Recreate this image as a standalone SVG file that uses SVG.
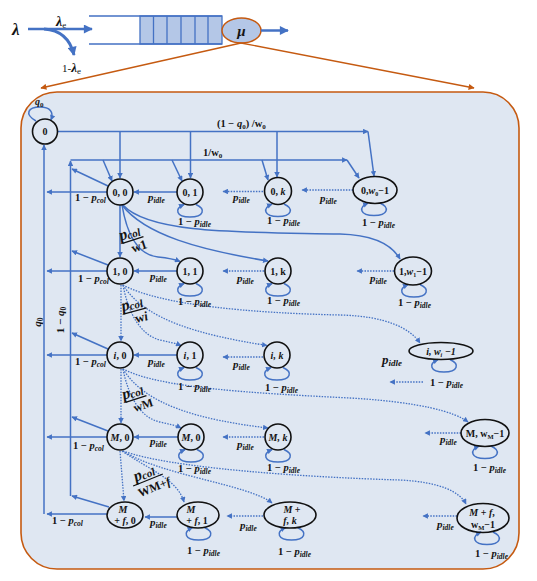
<svg xmlns="http://www.w3.org/2000/svg" width="537" height="581" viewBox="0 0 537 581">
<style>
.t{font-family:"Liberation Serif","DejaVu Serif",serif;font-weight:bold;fill:#141414}
.n{font-size:10px;text-anchor:middle}
.i{font-style:italic}
.sb{font-size:7.5px;font-style:italic}
.nd{fill:none;stroke:#111;stroke-width:1.6}
.e{fill:none;stroke:#4472c4;stroke-width:1.5;marker-end:url(#ab)}
.d{fill:none;stroke:#4472c4;stroke-width:1.3;stroke-dasharray:1.5 1.3;marker-end:url(#ab)}
.l{fill:none;stroke:#4472c4;stroke-width:1.5}
.fl{stroke:#111;stroke-width:1.3}
</style>
<defs>
<marker id="ab" viewBox="0 0 10 10" refX="9" refY="5" markerWidth="6" markerHeight="5.5" orient="auto" markerUnits="userSpaceOnUse"><path d="M0,0 L10,5 L0,10 z" fill="#4472c4"/></marker>
<marker id="abig" viewBox="0 0 10 10" refX="9" refY="5" markerWidth="10" markerHeight="9" orient="auto" markerUnits="userSpaceOnUse"><path d="M0,0 L10,5 L0,10 z" fill="#4472c4"/></marker>
<marker id="ao" viewBox="0 0 10 10" refX="9" refY="5" markerWidth="8" markerHeight="6" orient="auto" markerUnits="userSpaceOnUse"><path d="M0,0 L10,5 L0,10 z" fill="#c55a11"/></marker>
<path id="lp" d="M6,-0.5 C16,4 14,12 0,12 C-14,12 -16,4 -6,-0.5" fill="none" stroke="#4472c4" stroke-width="1.5" marker-end="url(#ab)"/>
</defs>

<!-- top queue -->
<g id="queue">
<text class="t i" x="12" y="35" font-size="17">λ</text>
<line x1="28" y1="29" x2="92" y2="29" stroke="#4472c4" stroke-width="2.5" marker-end="url(#abig)"/>
<path d="M44,29 C60,30 70,38 74,55" fill="none" stroke="#4472c4" stroke-width="3" marker-end="url(#abig)"/>
<text class="t" x="56" y="26" font-size="14"><tspan class="i">λ</tspan><tspan font-size="9" font-weight="normal" dy="2">e</tspan></text>
<text class="t" x="62" y="72" font-size="11"><tspan font-weight="normal">1-</tspan><tspan class="i" font-size="13">λ</tspan><tspan font-size="9" font-weight="normal" dy="2">e</tspan></text>
<rect x="140" y="16" width="82" height="28" fill="#b4c7e7" stroke="#4472c4" stroke-width="1.3"/>
<path d="M89,16 H222 M89,44 H222 M153.5,16 V44 M167,16 V44 M181,16 V44 M195,16 V44 M208,16 V44" stroke="#4472c4" stroke-width="1.3" fill="none"/>
<ellipse cx="241.5" cy="30.5" rx="19.5" ry="12.5" fill="#b4c7e7" stroke="#c55a11" stroke-width="1.5"/>
<text class="t i" x="241.5" y="36" font-size="15" text-anchor="middle">μ</text>
<line x1="261" y1="30.5" x2="288" y2="30.5" stroke="#4472c4" stroke-width="2.5" marker-end="url(#abig)"/>
<line x1="241" y1="43" x2="41" y2="88" stroke="#c55a11" stroke-width="1.3" marker-end="url(#ao)"/>
<line x1="241" y1="43" x2="474" y2="88" stroke="#c55a11" stroke-width="1.3" marker-end="url(#ao)"/>
</g>

<rect id="panel" x="21" y="92" width="498" height="477" rx="36" fill="#dfe7f2" stroke="#c55a11" stroke-width="1.6"/>

<g id="connectors">
<!-- node 0 self loop -->
<path d="M36,121 C24,114 28,107 40,107 C50,107 54,112 51,120" class="e"/>
<!-- (1-q0)/w0 bus -->
<path d="M57.5,131.5 H368" class="e"/>
<path d="M368,131.5 L374,176" class="e"/>
<path d="M120,131.5 V178" class="e"/>
<path d="M190.5,131.5 V178" class="e"/>
<path d="M277,131.5 V177" class="e"/>
<!-- 1/w0 bus -->
<path d="M70.5,160 H347" class="e"/>
<path d="M347,160 L359,178" class="e"/>
<path d="M103,160 L112,181" class="e"/>
<path d="M172,160 L182,181" class="e"/>
<path d="M262,160 L268,180" class="e"/>
<!-- vertical returns -->
<path d="M44,514 V145" class="e"/>
<path d="M70.5,496 V161" class="e"/>
<!-- row 0 -->
<path d="M107,192 H47" class="e"/>
<path d="M108,186 L72,169" class="e"/>
<path d="M177,192 H134" class="e"/>
<path d="M263,191.5 H223" class="d"/>
<path d="M353,190 H302" class="d"/>
<!-- row 1 -->
<path d="M107,271 H47" class="e"/>
<path d="M108,265 L72,251" class="e"/>
<path d="M177,271 H134" class="e"/>
<path d="M264,271 H223" class="d"/>
<path d="M394,271 H357" class="d"/>
<!-- row i -->
<path d="M107,355 H47" class="e"/>
<path d="M108,349 L72,333" class="e"/>
<path d="M177,355 H134" class="e"/>
<path d="M263,357 H223" class="d"/>
<path d="M423,382 H390" class="d"/>
<!-- row M -->
<path d="M107,437 H47" class="e"/>
<path d="M108,431 L72,417" class="e"/>
<path d="M178,437 H134" class="e"/>
<path d="M264,437 H223" class="d"/>
<path d="M461,433 H425" class="d"/>
<!-- row M+f -->
<path d="M107,514 H47" class="e"/>
<path d="M109,507 L72,496" class="e"/>
<path d="M177,517 H145" class="e"/>
<path d="M263,516 H227" class="d"/>
<path d="M457,516 H423" class="d"/>
<!-- 0,0 to row 1 -->
<path d="M120,205 V257" class="e"/>
<path d="M122,205 C127,235 138,255 158,257 C168,258 174,259 180,261.5" class="e"/>
<path d="M122,205 C145,235 200,250 268,261" class="e"/>
<path d="M123,205 C150,235 250,232 340,234 C375,235 392,245 400,259" class="e"/>
<!-- 1,0 to row i -->
<path d="M121,285 V341" class="d"/>
<path d="M123,285 C128,312 140,335 160,340 C168,342 175,343 181,345.5" class="d"/>
<path d="M123,285 C145,320 200,335 267,345.5" class="d"/>
<path d="M123,285 C160,305 250,313 340,315 C385,316 410,328 420,343" class="d"/>
<!-- i,0 to row M -->
<path d="M121,369 V423" class="d"/>
<path d="M123,369 C128,395 140,418 160,422 C168,424 175,425 181,428" class="d"/>
<path d="M123,369 C145,405 200,420 268,428" class="d"/>
<path d="M123,369 C160,388 250,393 350,398 C420,402 455,412 468,422" class="d"/>
<!-- M,0 to row M+f -->
<path d="M120,451 L124,501" class="d"/>
<path d="M122,451 C150,470 178,480 184,502" class="d"/>
<path d="M123,451 C160,475 250,485 272,503" class="d"/>
<path d="M123,451 C170,468 300,477 400,480 C440,482 460,492 466,504" class="d"/>
<!-- self loops -->
<use href="#lp" x="190" y="205"/>
<use href="#lp" x="278" y="204.5"/>
<use href="#lp" x="374" y="203.5"/>
<use href="#lp" x="190" y="284"/>
<use href="#lp" x="278" y="284"/>
<use href="#lp" x="414" y="285"/>
<use href="#lp" x="190" y="368"/>
<use href="#lp" x="277" y="368"/>
<use href="#lp" x="444" y="360"/>
<use href="#lp" x="191" y="450"/>
<use href="#lp" x="278" y="450"/>
<use href="#lp" x="485" y="446.5"/>
<use href="#lp" x="198.5" y="528"/>
<use href="#lp" x="291.5" y="528"/>
<use href="#lp" x="487" y="532.5"/>
</g>

<g id="labels">
<text class="t" x="35" y="105" font-size="10"><tspan class="i">q</tspan><tspan font-size="7" dy="2">0</tspan></text>
<text class="t" x="217" y="127" font-size="10.5">(1 − <tspan class="i">q</tspan><tspan font-size="7" dy="2">0</tspan><tspan dy="-2">) /w</tspan><tspan font-size="7" dy="2">0</tspan></text>
<text class="t" x="203" y="156" font-size="10.5">1/w<tspan font-size="7" dy="2">0</tspan></text>
<text class="t" transform="translate(41,322) rotate(-90)" text-anchor="middle" font-size="11"><tspan class="i">q</tspan><tspan font-size="7.5" dy="2">0</tspan></text>
<text class="t" transform="translate(64,320) rotate(-90)" text-anchor="middle" font-size="11">1 − <tspan class="i">q</tspan><tspan font-size="7.5" dy="2">0</tspan></text>

<!-- 1 - pcol -->
<text class="t" x="75" y="201" font-size="10.5">1 − <tspan class="i">p</tspan><tspan class="sb" dy="2">col</tspan></text>
<text class="t" x="78" y="282" font-size="10.5">1 − <tspan class="i">p</tspan><tspan class="sb" dy="2">col</tspan></text>
<text class="t" x="75" y="365" font-size="10.5">1 − <tspan class="i">p</tspan><tspan class="sb" dy="2">col</tspan></text>
<text class="t" x="73" y="449" font-size="10.5">1 − <tspan class="i">p</tspan><tspan class="sb" dy="2">col</tspan></text>
<text class="t" x="52" y="524" font-size="10.5">1 −  <tspan class="i">p</tspan><tspan class="sb" dy="2">col</tspan></text>

<!-- p_idle -->
<text class="t" x="148" y="201" font-size="11"><tspan class="i">p</tspan><tspan class="sb" dy="2">idle</tspan></text>
<text class="t" x="233" y="201" font-size="11"><tspan class="i">p</tspan><tspan class="sb" dy="2">idle</tspan></text>
<text class="t" x="320" y="202" font-size="11"><tspan class="i">p</tspan><tspan class="sb" dy="2">idle</tspan></text>
<text class="t" x="150" y="280" font-size="11"><tspan class="i">p</tspan><tspan class="sb" dy="2">idle</tspan></text>
<text class="t" x="237" y="282" font-size="11"><tspan class="i">p</tspan><tspan class="sb" dy="2">idle</tspan></text>
<text class="t" x="370" y="282" font-size="11"><tspan class="i">p</tspan><tspan class="sb" dy="2">idle</tspan></text>
<text class="t" x="148" y="365" font-size="11"><tspan class="i">p</tspan><tspan class="sb" dy="2">idle</tspan></text>
<text class="t" x="233" y="368" font-size="11"><tspan class="i">p</tspan><tspan class="sb" dy="2">idle</tspan></text>
<text class="t" x="382" y="364" font-size="13"><tspan class="i">p</tspan><tspan class="i" font-size="9" dy="2">idle</tspan></text>
<text class="t" x="150" y="445" font-size="11"><tspan class="i">p</tspan><tspan class="sb" dy="2">idle</tspan></text>
<text class="t" x="237" y="448" font-size="11"><tspan class="i">p</tspan><tspan class="sb" dy="2">idle</tspan></text>
<text class="t" x="440" y="443" font-size="11"><tspan class="i">p</tspan><tspan class="sb" dy="2">idle</tspan></text>
<text class="t" x="150" y="526" font-size="11"><tspan class="i">p</tspan><tspan class="sb" dy="2">idle</tspan></text>
<text class="t" x="240" y="529" font-size="11"><tspan class="i">p</tspan><tspan class="sb" dy="2">idle</tspan></text>
<text class="t" x="437" y="528" font-size="11"><tspan class="i">p</tspan><tspan class="sb" dy="2">idle</tspan></text>

<!-- 1 - p_idle -->
<text class="t" x="178" y="225" font-size="10.5">1 − <tspan class="i">p</tspan><tspan class="sb" dy="2">idle</tspan></text>
<text class="t" x="267" y="224" font-size="10.5">1 − <tspan class="i">p</tspan><tspan class="sb" dy="2">idle</tspan></text>
<text class="t" x="362" y="226" font-size="10.5">1 − <tspan class="i">p</tspan><tspan class="sb" dy="2">idle</tspan></text>
<text class="t" x="178" y="305" font-size="10.5">1 − <tspan class="i">p</tspan><tspan class="sb" dy="2">idle</tspan></text>
<text class="t" x="267" y="304" font-size="10.5">1 − <tspan class="i">p</tspan><tspan class="sb" dy="2">idle</tspan></text>
<text class="t" x="398" y="306" font-size="10.5">1 − <tspan class="i">p</tspan><tspan class="sb" dy="2">idle</tspan></text>
<text class="t" x="178" y="390" font-size="10.5">1 − <tspan class="i">p</tspan><tspan class="sb" dy="2">idle</tspan></text>
<text class="t" x="265" y="391" font-size="10.5">1 − <tspan class="i">p</tspan><tspan class="sb" dy="2">idle</tspan></text>
<text class="t" x="430" y="386" font-size="10.5">1 − <tspan class="i">p</tspan><tspan class="sb" dy="2">idle</tspan></text>
<text class="t" x="178" y="472" font-size="10.5">1 − <tspan class="i">p</tspan><tspan class="sb" dy="2">idle</tspan></text>
<text class="t" x="267" y="471" font-size="10.5">1 − <tspan class="i">p</tspan><tspan class="sb" dy="2">idle</tspan></text>
<text class="t" x="473" y="471" font-size="10.5">1 − <tspan class="i">p</tspan><tspan class="sb" dy="2">idle</tspan></text>
<text class="t" x="187" y="554" font-size="10.5">1 − <tspan class="i">p</tspan><tspan class="sb" dy="2">idle</tspan></text>
<text class="t" x="278" y="555" font-size="10.5">1 − <tspan class="i">p</tspan><tspan class="sb" dy="2">idle</tspan></text>
<text class="t" x="475" y="557" font-size="10.5">1 − <tspan class="i">p</tspan><tspan class="sb" dy="2">idle</tspan></text>

<!-- fractions -->
<g transform="translate(133,240) rotate(-18)">
<text class="t i" x="-12" y="-3" font-size="16">p<tspan font-size="11" dy="1">col</tspan></text>
<line class="fl" x1="-11" y1="0" x2="11" y2="0"/>
<text class="t" x="-4" y="12" font-size="13">w1</text>
</g>
<g transform="translate(135,311) rotate(-15)">
<text class="t i" x="-12" y="-3" font-size="16">p<tspan font-size="11" dy="1">col</tspan></text>
<line class="fl" x1="-12" y1="0" x2="12" y2="0"/>
<text class="t" x="-2" y="12" font-size="13">w<tspan class="i">i</tspan></text>
</g>
<g transform="translate(136,399) rotate(-18)">
<text class="t i" x="-12" y="-3" font-size="16">p<tspan font-size="11" dy="1">col</tspan></text>
<line class="fl" x1="-11" y1="0" x2="11" y2="0"/>
<text class="t" x="-5" y="12" font-size="12">wM</text>
</g>
<g transform="translate(148,480) rotate(-22)">
<text class="t i" x="-12" y="-3" font-size="16">p<tspan font-size="11" dy="1">col</tspan></text>
<line class="fl" x1="-16" y1="0" x2="16" y2="0"/>
<text class="t" x="-14" y="13" font-size="12">WM+<tspan class="i">f</tspan></text>
</g>
</g>

<!-- nodes -->
<g id="n0"><circle class="nd" cx="45" cy="131.5" r="12.5"/><text class="t n" x="45" y="135">0</text></g>
<g id="n0_0"><circle class="nd" cx="120" cy="192" r="13"/><text class="t n" x="120" y="195.5">0, 0</text></g>
<g id="n0_1"><circle class="nd" cx="190" cy="192" r="13"/><text class="t n" x="190" y="195.5">0, 1</text></g>
<g id="n0_k"><circle class="nd" cx="278" cy="191" r="13.5"/><text class="t n" x="278" y="194.5">0, <tspan class="i">k</tspan></text></g>
<g id="n0_w"><ellipse class="nd" cx="375" cy="190" rx="22" ry="13.5"/><text class="t n" x="375" y="193.5" font-size="9">0,<tspan class="i">w</tspan><tspan font-size="6" dy="2">0</tspan><tspan dy="-2">−1</tspan></text></g>
<g id="n1_0"><circle class="nd" cx="120" cy="271" r="13"/><text class="t n" x="120" y="274.5">1, 0</text></g>
<g id="n1_1"><circle class="nd" cx="190" cy="271" r="13"/><text class="t n" x="190" y="274.5">1, 1</text></g>
<g id="n1_k"><circle class="nd" cx="278" cy="271" r="13"/><text class="t n" x="278" y="274.5">1, k</text></g>
<g id="n1_w"><ellipse class="nd" cx="413" cy="271" rx="18.5" ry="14"/><text class="t n" x="413" y="274.5" font-size="9">1,<tspan class="i">w</tspan><tspan font-size="6" dy="2">1</tspan><tspan dy="-2">−1</tspan></text></g>
<g id="ni_0"><circle class="nd" cx="120" cy="355" r="13"/><text class="t n" x="120" y="358.5"><tspan class="i">i</tspan>, 0</text></g>
<g id="ni_1"><circle class="nd" cx="190" cy="355" r="13"/><text class="t n" x="190" y="358.5"><tspan class="i">i</tspan>, 1</text></g>
<g id="ni_k"><circle class="nd" cx="277" cy="355" r="13"/><text class="t n i" x="277" y="358.5">i, k</text></g>
<g id="ni_w"><ellipse class="nd" cx="441" cy="351" rx="32" ry="8.5"/><text class="t n i" x="441" y="355" font-size="11">i,  w<tspan font-size="6" dy="2">i</tspan><tspan dy="-2"> −1</tspan></text></g>
<g id="nM_0"><circle class="nd" cx="120" cy="437" r="13"/><text class="t n" x="120" y="440.5"><tspan class="i">M</tspan>, 0</text></g>
<g id="nM_1"><circle class="nd" cx="191" cy="437" r="13"/><text class="t n" x="191" y="440.5"><tspan class="i">M</tspan>, 0</text></g>
<g id="nM_k"><circle class="nd" cx="278" cy="437" r="13"/><text class="t n i" x="278" y="440.5">M, k</text></g>
<g id="nM_w"><ellipse class="nd" cx="485" cy="433" rx="24" ry="13.5"/><text class="t n" x="485" y="437" font-size="10.5">M, w<tspan font-size="6.5" dy="2">M</tspan><tspan dy="-2">−1</tspan></text></g>
<g id="nF_0"><ellipse class="nd" cx="125" cy="515" rx="18" ry="13"/><text class="t n i" x="123" y="513" font-size="9">M</text><text class="t n" x="125" y="524" font-size="10">+ <tspan class="i">f</tspan>, 0</text></g>
<g id="nF_1"><ellipse class="nd" cx="198" cy="515" rx="21" ry="13"/><text class="t n i" x="191" y="513" font-size="9">M</text><text class="t n" x="197" y="524" font-size="10">+ <tspan class="i">f</tspan>, 1</text></g>
<g id="nF_k"><ellipse class="nd" cx="290" cy="515" rx="26" ry="13"/><text class="t n" x="292" y="513" font-size="10"><tspan class="i">M</tspan> +</text><text class="t n i" x="290" y="524" font-size="10">f, k</text></g>
<g id="nF_w"><ellipse class="nd" cx="483" cy="518" rx="26" ry="14.5"/><text class="t n" x="482" y="516" font-size="10"><tspan class="i">M</tspan> + <tspan class="i">f</tspan>,</text><text class="t n" x="483" y="528" font-size="10">w<tspan font-size="6.5" dy="2">M</tspan><tspan dy="-2">−1</tspan></text></g>
</svg>
